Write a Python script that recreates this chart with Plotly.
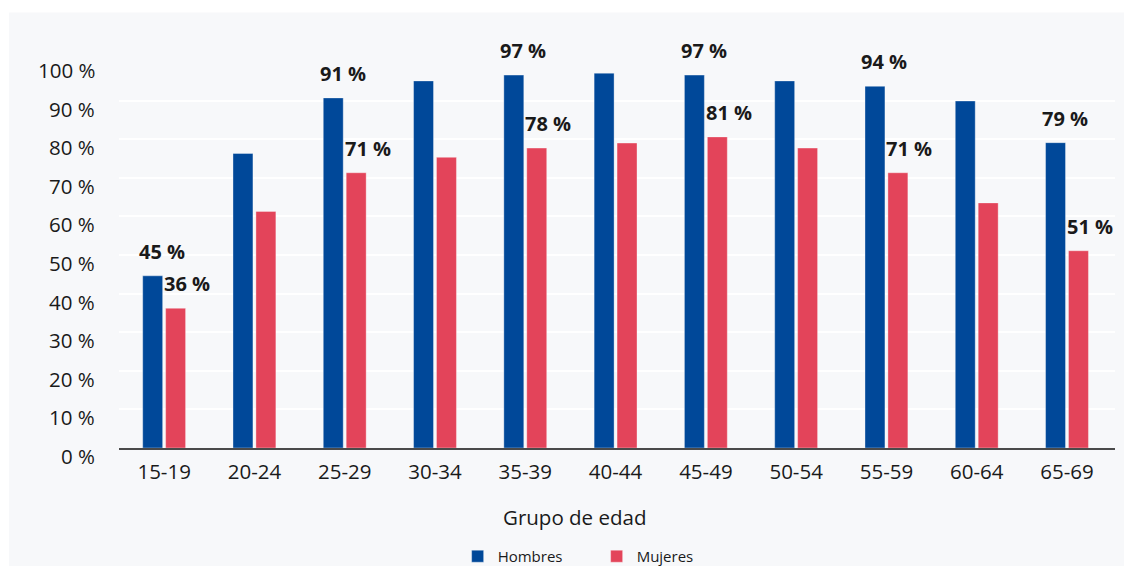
import plotly.graph_objects as go

# data
grupos = ["15-19", "20-24", "25-29", "30-34", "35-39", "40-44",
          "45-49", "50-54", "55-59", "60-64", "65-69"]
hombres = [44.6, 76.3, 90.7, 95.1, 96.6, 97.1, 96.6, 95.1, 93.7, 89.9, 79.1]
mujeres = [36.2, 61.3, 71.3, 75.3, 77.7, 79.0, 80.6, 77.7, 71.3, 63.5, 51.1]
etiquetados = ["15-19", "25-29", "35-39", "45-49", "55-59", "65-69"]
y_ticks = [0, 10, 20, 30, 40, 50, 60, 70, 80, 90, 100]

AZUL = "#004899"
ROJO = "#e3445a"
FONT = "Open Sans"

fig = go.Figure()
fig.add_trace(go.Bar(x=grupos, y=hombres, name="Hombres", marker_color=AZUL,
                     marker_line_color="rgba(255,255,255,0.35)", marker_line_width=1))
fig.add_trace(go.Bar(x=grupos, y=mujeres, name="Mujeres", marker_color=ROJO,
                     marker_line_color="rgba(255,255,255,0.35)", marker_line_width=1))

# value labels on every other group
for g, h, m in zip(grupos, hombres, mujeres):
    if g not in etiquetados:
        continue
    fig.add_annotation(x=g, y=h, text="<b>%d %%</b>" % round(h), showarrow=False,
                       yanchor="bottom", xshift=-2, yshift=9,
                       font=dict(family=FONT, size=20, color="#1a1a1a"))
    fig.add_annotation(x=g, y=m, text="<b>%d %%</b>" % round(m), showarrow=False,
                       yanchor="bottom", xshift=23, yshift=9,
                       font=dict(family=FONT, size=20, color="#1a1a1a"))

# y tick labels sit a little below their gridlines in the original
for v in y_ticks:
    fig.add_annotation(x=0, xref="paper", y=v, text="%d %%" % v, showarrow=False,
                       xanchor="right", yanchor="middle", xshift=-22, yshift=-8,
                       font=dict(family=FONT, size=20.5, color="#1a1a1a"))

# x axis title (centred on the whole panel, not the plot area)
fig.add_annotation(x=0.457, y=-0.18, xref="paper", yref="paper", text="Grupo de edad",
                   showarrow=False, yanchor="middle",
                   font=dict(family=FONT, size=20.5, color="#1a1a1a"))

# light grey panel behind the chart
fig.add_shape(type="rect", xref="paper", yref="paper", x0=-0.1104, x1=1.05,
              y0=-0.35, y1=1.128, fillcolor="#f7f8fa", line_width=0, layer="below")

fig.update_layout(
    width=1132, height=566,
    margin=dict(l=111, r=25, t=54, b=126, autoexpand=False),
    paper_bgcolor="white", plot_bgcolor="rgba(0,0,0,0)",
    barmode="group", bargap=0.492, bargroupgap=0.13,
    font=dict(family=FONT, color="#1a1a1a"),
    showlegend=True,
    legend=dict(orientation="h", x=0.340, xanchor="left", y=-0.281, yanchor="middle",
                font=dict(family=FONT, size=15, color="#1a1a1a"),
                entrywidth=94, entrywidthmode="pixels", bgcolor="rgba(0,0,0,0)"),
    xaxis=dict(showline=True, linecolor="#4a4a4a", linewidth=2, showgrid=False,
               ticks="", ticklabelstandoff=4,
               tickfont=dict(family=FONT, size=20.5, color="#1a1a1a")),
    yaxis=dict(range=[0, 100], tickvals=y_ticks, showticklabels=False, showgrid=True,
               gridcolor="white", gridwidth=1.5, zeroline=False, ticks=""),
)

fig.write_html("out.html")
